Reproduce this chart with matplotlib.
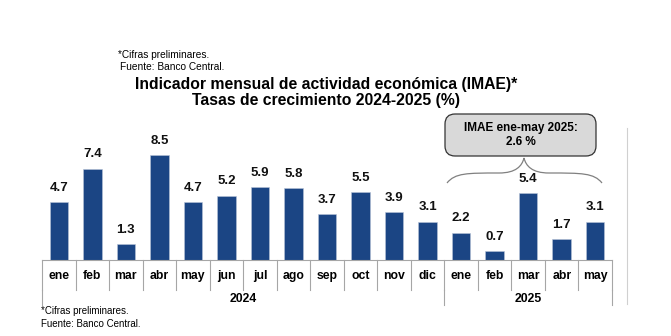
import matplotlib
matplotlib.use("Agg")
import matplotlib.pyplot as plt
import numpy as np
from matplotlib.patches import FancyBboxPatch
from matplotlib.path import Path
from matplotlib.patches import PathPatch
import matplotlib.transforms as mtransforms

plt.rcParams['font.family'] = ['Liberation Sans', 'DejaVu Sans']

# data
months = ['ene', 'feb', 'mar', 'abr', 'may', 'jun', 'jul', 'ago', 'sep', 'oct', 'nov', 'dic',
          'ene', 'feb', 'mar', 'abr', 'may']
values = [4.7, 7.4, 1.3, 8.5, 4.7, 5.2, 5.9, 5.8, 3.7, 5.5, 3.9, 3.1,
          2.2, 0.7, 5.4, 1.7, 3.1]
years = ['2024', '2025']
year_counts = [12, 5]
box_text = 'IMAE ene-may 2025:\n2.6 %'

W, H = 671, 336
fig = plt.figure(figsize=(W / 100, H / 100), dpi=100)

# axes box in pixels: x 42..612, y 120..260 (from top)
ax = fig.add_axes([42 / W, (H - 260) / H, 570 / W, 140 / H])
x = np.arange(len(values))
ax.bar(x, values, width=0.55, color='#1b4584', edgecolor='#b8c4d8', linewidth=0.4)
ax.set_xlim(-0.5, len(values) - 0.5)
ax.set_ylim(0, 140 / 12.35)
ax.axis('off')

for xi, v in zip(x, values):
    ax.annotate(f'{v:.1f}', (xi, v), xytext=(0, 6), textcoords='offset points',
                ha='center', va='bottom', fontsize=9.5, fontweight='bold', color='#111111')

# category box below the bars
trans = mtransforms.blended_transform_factory(ax.transData, ax.transAxes)
lc = '#a6a6a6'
y_month = (260 - 290) / 140
y_year = (260 - 305) / 140
for b in range(len(values) + 1):
    xb = b - 0.5
    ax.plot([xb, xb], [0, y_month], color=lc, lw=0.8, transform=trans, clip_on=False)
ax.plot([-0.5, len(values) - 0.5], [0, 0], color=lc, lw=0.8, transform=trans, clip_on=False)
for i, m in enumerate(months):
    ax.text(i, (260 - 276) / 140, m, transform=trans, ha='center', va='center',
            fontsize=8.8, fontweight='bold')

start = 0
edges = [-0.5]
for yr, n in zip(years, year_counts):
    ax.text(start + (n - 1) / 2, (260 - 299) / 140, yr, transform=trans, ha='center',
            va='center', fontsize=8.8, fontweight='bold')
    start += n
    edges.append(start - 0.5)
for xb in edges:
    ax.plot([xb, xb], [y_month, y_year], color=lc, lw=0.8, transform=trans, clip_on=False)

# brace over 2025 bars (pixel coords -> figure fraction)
def px(xp, yp):
    return (xp / W, 1 - yp / H)

xl, xr, xm = 447, 602, 524
yb, yt, ytip = 183, 173, 158
verts = [px(xl, yb), px(xl + 8, yt), px(xl + 20, yt), px(xm - 25, yt),
         px(xm - 8, yt), px(xm - 2, ytip + 8), px(xm, ytip),
         px(xm + 2, ytip + 8), px(xm + 8, yt), px(xm + 25, yt),
         px(xr - 20, yt), px(xr - 8, yt), px(xr, yb)]
codes = [Path.MOVETO, Path.CURVE4, Path.CURVE4, Path.CURVE4,
         Path.CURVE4, Path.CURVE4, Path.CURVE4,
         Path.CURVE4, Path.CURVE4, Path.CURVE4,
         Path.CURVE4, Path.CURVE4, Path.CURVE4]
fig.patches.append(PathPatch(Path(verts, codes), facecolor='none', edgecolor='#808080',
                             lw=0.9, transform=fig.transFigure))

# summary box
bx0, by0 = px(445, 156)
box = FancyBboxPatch((bx0, by0), 151 / W, 42 / H, boxstyle='round,pad=0,rounding_size=0.015',
                     facecolor='#d9d9d9', edgecolor='#333333', lw=0.9,
                     transform=fig.transFigure, mutation_aspect=W / H)
fig.patches.append(box)
fig.text(521 / W, 1 - 135 / H, box_text, ha='center', va='center', fontsize=8.5,
         fontweight='bold', linespacing=1.2)

# right separator line
fig.add_artist(plt.Line2D([627 / W, 627 / W], [1 - 128 / H, 1 - 304 / H],
                          color='#d0d0d0', lw=0.8))

# titles and notes
fig.text(326 / W, 1 - 85 / H, 'Indicador mensual de actividad económica (IMAE)*',
         ha='center', va='center', fontsize=11.3, fontweight='bold')
fig.text(326 / W, 1 - 101 / H, 'Tasas de crecimiento 2024-2025 (%)',
         ha='center', va='center', fontsize=11.3, fontweight='bold')
fig.text(118 / W, 1 - 55 / H, '*Cifras preliminares.', fontsize=7.3, va='center')
fig.text(120 / W, 1 - 67 / H, 'Fuente: Banco Central.', fontsize=7.3, va='center')
fig.text(41 / W, 1 - 311 / H, '*Cifras preliminares.', fontsize=7, va='center')
fig.text(41 / W, 1 - 324 / H, 'Fuente: Banco Central.', fontsize=7, va='center')

fig.savefig('out.png', dpi=100, facecolor='white')
